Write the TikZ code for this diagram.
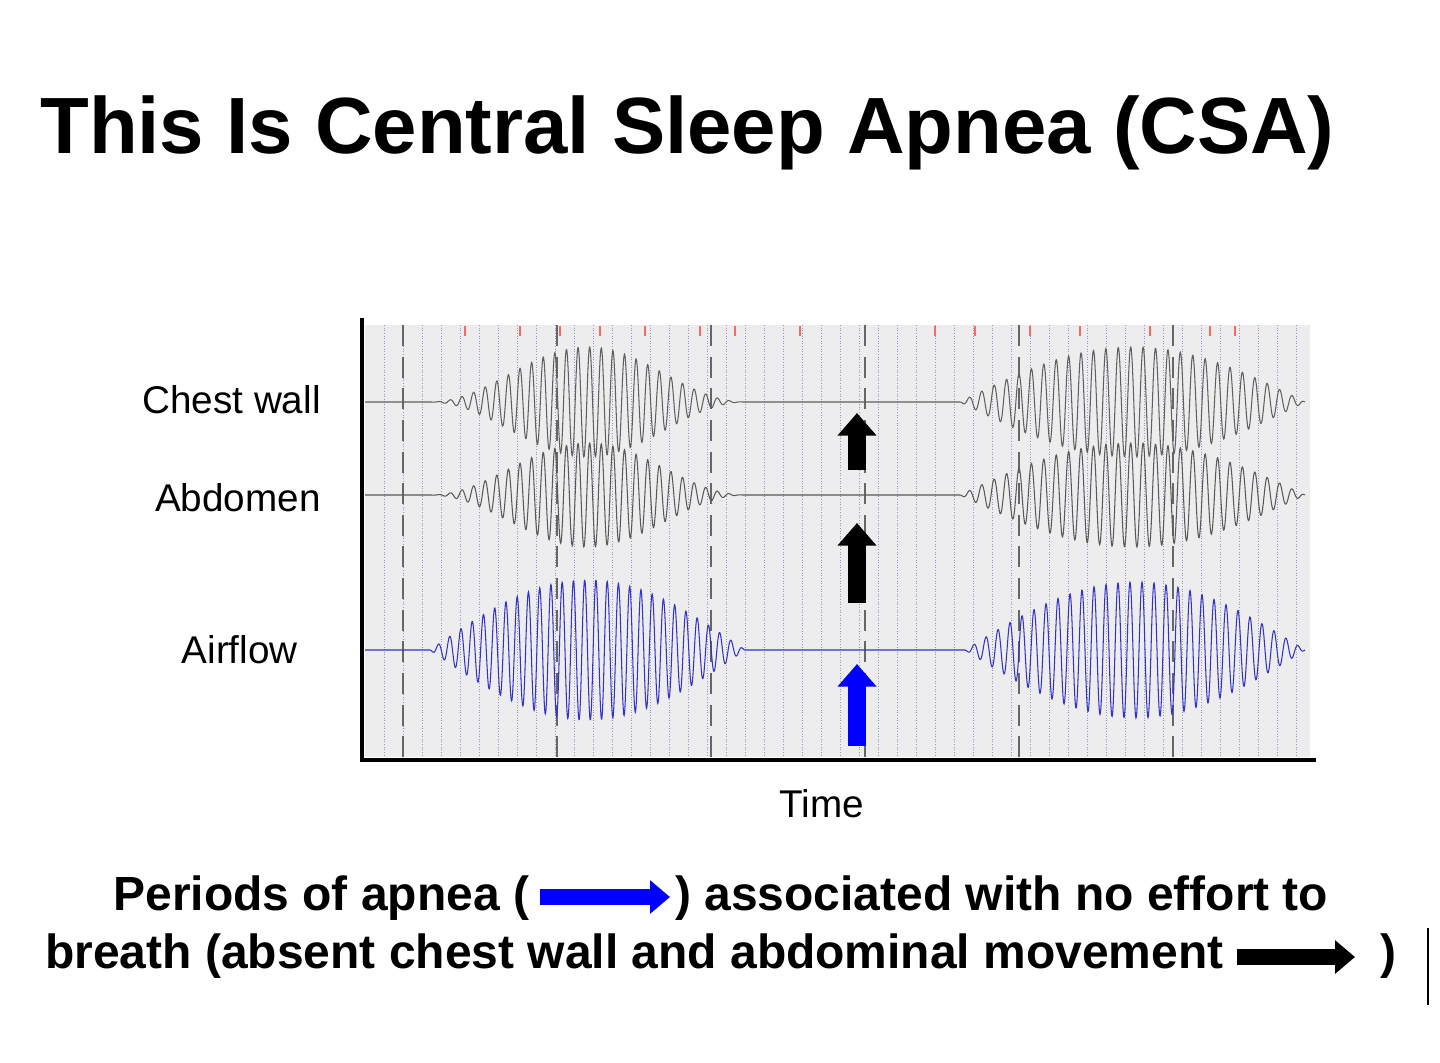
\documentclass[tikz,border=0pt]{standalone}
\usepackage{fontspec}
\setmainfont{Liberation Sans}
\usetikzlibrary{arrows.meta,positioning}
\tikzset{
  lbl/.style={font=\fontsize{22}{26}\selectfont, anchor=east, inner sep=0pt},
  txt/.style={font=\fontsize{27.3}{30}\selectfont\bfseries, anchor=base west, inner sep=0pt},
  bigarrow/.style={line width=10pt, -{Triangle[width=0.75cm,length=0.45cm]}},
}
\begin{document}
\begin{tikzpicture}[x=0.02cm,y=-0.02cm]
  \useasboundingbox (0,0) rectangle (1440,1062);
  \fill[white] (0,0) rectangle (1440,1062);

  \node[font=\fontsize{45.4}{50}\selectfont\bfseries, anchor=base west, inner sep=0pt] (title) at (40,153) {This Is Central Sleep Apnea (CSA)};

  % plot area
  \fill[gray!14] (365,325) rectangle (1310,757);
  \foreach \x in {384,403,...,1300}
    \draw[blue!40!gray!60, densely dotted, line width=0.5pt] (\x,325) -- (\x,757);
  \foreach \x in {403,557,711,865,1019,1173}
    \draw[gray!80!black, dash pattern=on 12pt off 6pt, line width=0.6pt] (\x,325) -- (\x,757);
  \foreach \x in {465,520,560,600,645,700,735,800,935,975,1030,1080,1150,1210,1235}
    \draw[red!60, line width=0.8pt] (\x,326) -- (\x,336);
  \coordinate (origin) at (362,760);
  \draw[line width=2pt] (362,318) -- (origin) -- (1316,760);

  % traces
  \foreach \yb/\amp/\col in {402/55/gray!75!black, 495/52/gray!70!black}{
    \draw[line width=0.6pt, \col] (365,\yb) -- (430,\yb)
      plot[domain=430:745, samples=900] (\x,{\yb+\amp*sin(0.5714*(\x-430))^2*sin((\x-430)*31)})
      -- (960,\yb)
      plot[domain=960:1305, samples=900] (\x,{\yb+\amp*sin(0.5217*(\x-960))*sin((\x-960)*29)});
  }
  \draw[line width=0.6pt, blue!60!gray] (365,650) -- (430,650)
    plot[domain=430:745, samples=900] (\x,{650+70*sin(0.5714*(\x-430))*sin((\x-430)*32)})
    -- (965,650)
    plot[domain=965:1305, samples=900] (\x,{650+68*sin(0.5294*(\x-965))*sin((\x-965)*30)});

  % arrows in plot
  \draw[bigarrow] (857,470) -- (857,413);
  \draw[bigarrow] (857,603) -- (857,523);
  \draw[bigarrow, blue] (857,746) -- (857,664);

  \node[lbl] (chest) at (321,400) {Chest wall};
  \node[lbl] (abd) at (321,498) {Abdomen};
  \node[lbl] (air) at (298,650) {Airflow};
  \node[font=\fontsize{22}{26}\selectfont, inner sep=0pt] (time) at (822,804) {Time};

  % caption
  \node[txt] (p1) at (113,910) {Periods of apnea (};
  \node[txt] (p2) at (675,910) {) associated with no effort to};
  \draw[line width=9pt, blue, -{Triangle[width=0.65cm,length=0.4cm]}] (540,897) -- (670,897);
  \node[txt] (b1) at (45,968) {breath (absent chest wall and abdominal movement};
  \draw[line width=9pt, -{Triangle[width=0.65cm,length=0.4cm]}] (1237,957) -- (1355,957);
  \node[txt] (b2) at (1380,968) {)};
  \draw[line width=1.5pt] (1428,928) -- (1428,1005);
\end{tikzpicture}
\end{document}
